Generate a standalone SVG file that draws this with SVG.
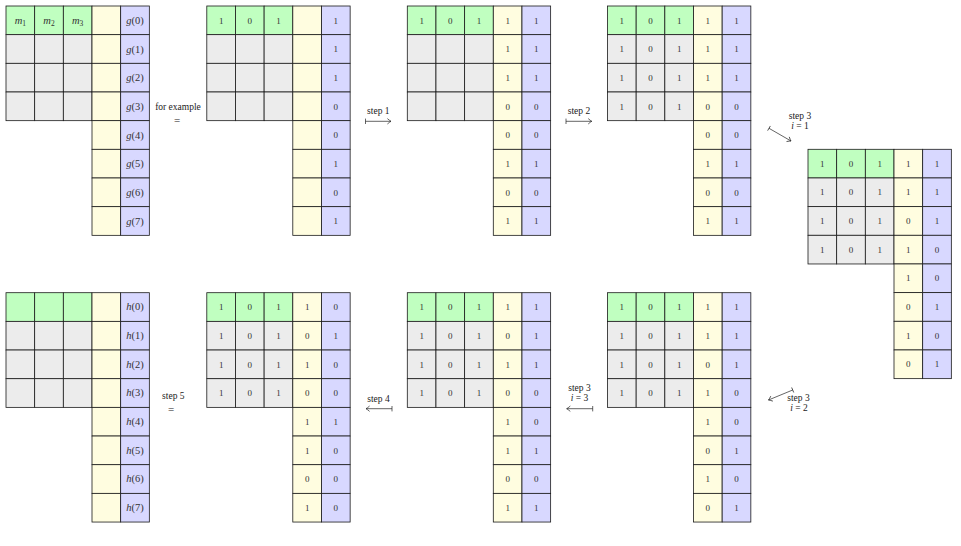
<svg xmlns="http://www.w3.org/2000/svg" xmlns:xlink="http://www.w3.org/1999/xlink" width="961" height="546" viewBox="0 0 961 546" font-family="'Liberation Serif', 'Times New Roman', 'DejaVu Serif', serif">
<style>
.c{stroke:#1a1a1a;stroke-width:0.8}
.gn{fill:#c0ffc0}
.gy{fill:#ececec}
.yl{fill:#fffde0}
.bl{fill:#d8d8ff}
text{font-family:'Liberation Serif','Times New Roman','DejaVu Serif',serif;fill:#333}
.d{font-size:9px;text-anchor:middle}
.v{font-size:10.5px;text-anchor:middle}
.it{font-style:italic}
.lb{font-size:9.5px;text-anchor:middle;fill:#222}
.eq{font-size:11px;text-anchor:middle;fill:#222}
.ar{fill:none;stroke:#222;stroke-width:0.7;marker-start:url(#bar);marker-end:url(#head)}
.mk{fill:none;stroke:#222;stroke-width:0.7}
</style>
<defs>
<marker id="head" markerUnits="userSpaceOnUse" viewBox="-5 -4 6 8" refX="0" refY="0" markerWidth="6" markerHeight="8" orient="auto" style="overflow:visible"><path class="mk" d="M-3.6,-2.7 Q-1.2,-0.6 0,0 Q-1.2,0.6 -3.6,2.7"/></marker>
<marker id="bar" markerUnits="userSpaceOnUse" viewBox="-2 -4 4 8" refX="0" refY="0" markerWidth="4" markerHeight="8" orient="auto" style="overflow:visible"><path class="mk" d="M0,-2.7 L0,2.7"/></marker>
<g id="tpl">
<rect class="c gn" x="0" y="0" width="28.67" height="28.67"/>
<rect class="c gn" x="28.67" y="0" width="28.67" height="28.67"/>
<rect class="c gn" x="57.33" y="0" width="28.67" height="28.67"/>
<rect class="c gy" x="0" y="28.67" width="28.67" height="28.67"/>
<rect class="c gy" x="28.67" y="28.67" width="28.67" height="28.67"/>
<rect class="c gy" x="57.33" y="28.67" width="28.67" height="28.67"/>
<rect class="c gy" x="0" y="57.33" width="28.67" height="28.67"/>
<rect class="c gy" x="28.67" y="57.33" width="28.67" height="28.67"/>
<rect class="c gy" x="57.33" y="57.33" width="28.67" height="28.67"/>
<rect class="c gy" x="0" y="86" width="28.67" height="28.67"/>
<rect class="c gy" x="28.67" y="86" width="28.67" height="28.67"/>
<rect class="c gy" x="57.33" y="86" width="28.67" height="28.67"/>
<rect class="c yl" x="86" y="0" width="28.67" height="28.67"/>
<rect class="c yl" x="86" y="28.67" width="28.67" height="28.67"/>
<rect class="c yl" x="86" y="57.33" width="28.67" height="28.67"/>
<rect class="c yl" x="86" y="86" width="28.67" height="28.67"/>
<rect class="c yl" x="86" y="114.67" width="28.67" height="28.67"/>
<rect class="c yl" x="86" y="143.33" width="28.67" height="28.67"/>
<rect class="c yl" x="86" y="172" width="28.67" height="28.67"/>
<rect class="c yl" x="86" y="200.67" width="28.67" height="28.67"/>
<rect class="c bl" x="114.67" y="0" width="28.67" height="28.67"/>
<rect class="c bl" x="114.67" y="28.67" width="28.67" height="28.67"/>
<rect class="c bl" x="114.67" y="57.33" width="28.67" height="28.67"/>
<rect class="c bl" x="114.67" y="86" width="28.67" height="28.67"/>
<rect class="c bl" x="114.67" y="114.67" width="28.67" height="28.67"/>
<rect class="c bl" x="114.67" y="143.33" width="28.67" height="28.67"/>
<rect class="c bl" x="114.67" y="172" width="28.67" height="28.67"/>
<rect class="c bl" x="114.67" y="200.67" width="28.67" height="28.67"/>
</g>
<g id="r101"><text class="d" x="14.33" y="17.5">1</text><text class="d" x="43" y="17.5">0</text><text class="d" x="71.67" y="17.5">1</text></g>
</defs>

<g id="grid-g" transform="translate(6,6)">
<use xlink:href="#tpl"/>
<text class="v" x="14.33" y="17.8"><tspan class="it">m</tspan><tspan font-size="7.5px" dy="2">1</tspan></text>
<text class="v" x="43" y="17.8"><tspan class="it">m</tspan><tspan font-size="7.5px" dy="2">2</tspan></text>
<text class="v" x="71.67" y="17.8"><tspan class="it">m</tspan><tspan font-size="7.5px" dy="2">3</tspan></text>
<text class="v" x="129" y="17.8"><tspan class="it">g</tspan>(0)</text>
<text class="v" x="129" y="46.5"><tspan class="it">g</tspan>(1)</text>
<text class="v" x="129" y="75.2"><tspan class="it">g</tspan>(2)</text>
<text class="v" x="129" y="103.8"><tspan class="it">g</tspan>(3)</text>
<text class="v" x="129" y="132.5"><tspan class="it">g</tspan>(4)</text>
<text class="v" x="129" y="161.2"><tspan class="it">g</tspan>(5)</text>
<text class="v" x="129" y="189.8"><tspan class="it">g</tspan>(6)</text>
<text class="v" x="129" y="218.5"><tspan class="it">g</tspan>(7)</text>
</g>

<g id="grid-example" transform="translate(206.8,6)">
<use xlink:href="#tpl"/>
<use xlink:href="#r101"/>
<text class="d" x="129" y="17.5">1</text><text class="d" x="129" y="46.2">1</text><text class="d" x="129" y="74.9">1</text><text class="d" x="129" y="103.5">0</text><text class="d" x="129" y="132.2">0</text><text class="d" x="129" y="160.9">1</text><text class="d" x="129" y="189.5">0</text><text class="d" x="129" y="218.2">1</text>
</g>

<g id="grid-step1" transform="translate(407.3,6)">
<use xlink:href="#tpl"/>
<use xlink:href="#r101"/>
<text class="d" x="100.33" y="17.5">1</text><text class="d" x="100.33" y="46.2">1</text><text class="d" x="100.33" y="74.9">1</text><text class="d" x="100.33" y="103.5">0</text><text class="d" x="100.33" y="132.2">0</text><text class="d" x="100.33" y="160.9">1</text><text class="d" x="100.33" y="189.5">0</text><text class="d" x="100.33" y="218.2">1</text>
<text class="d" x="129" y="17.5">1</text><text class="d" x="129" y="46.2">1</text><text class="d" x="129" y="74.9">1</text><text class="d" x="129" y="103.5">0</text><text class="d" x="129" y="132.2">0</text><text class="d" x="129" y="160.9">1</text><text class="d" x="129" y="189.5">0</text><text class="d" x="129" y="218.2">1</text>
</g>

<g id="grid-step2" transform="translate(607.5,6)">
<use xlink:href="#tpl"/>
<use xlink:href="#r101"/><use xlink:href="#r101" y="28.67"/><use xlink:href="#r101" y="57.33"/><use xlink:href="#r101" y="86"/>
<text class="d" x="100.33" y="17.5">1</text><text class="d" x="100.33" y="46.2">1</text><text class="d" x="100.33" y="74.9">1</text><text class="d" x="100.33" y="103.5">0</text><text class="d" x="100.33" y="132.2">0</text><text class="d" x="100.33" y="160.9">1</text><text class="d" x="100.33" y="189.5">0</text><text class="d" x="100.33" y="218.2">1</text>
<text class="d" x="129" y="17.5">1</text><text class="d" x="129" y="46.2">1</text><text class="d" x="129" y="74.9">1</text><text class="d" x="129" y="103.5">0</text><text class="d" x="129" y="132.2">0</text><text class="d" x="129" y="160.9">1</text><text class="d" x="129" y="189.5">0</text><text class="d" x="129" y="218.2">1</text>
</g>

<g id="grid-step3-i1" transform="translate(808,149.3)">
<use xlink:href="#tpl"/>
<use xlink:href="#r101"/><use xlink:href="#r101" y="28.67"/><use xlink:href="#r101" y="57.33"/><use xlink:href="#r101" y="86"/>
<text class="d" x="100.33" y="17.5">1</text><text class="d" x="100.33" y="46.2">1</text><text class="d" x="100.33" y="74.9">0</text><text class="d" x="100.33" y="103.5">1</text><text class="d" x="100.33" y="132.2">1</text><text class="d" x="100.33" y="160.9">0</text><text class="d" x="100.33" y="189.5">1</text><text class="d" x="100.33" y="218.2">0</text>
<text class="d" x="129" y="17.5">1</text><text class="d" x="129" y="46.2">1</text><text class="d" x="129" y="74.9">1</text><text class="d" x="129" y="103.5">0</text><text class="d" x="129" y="132.2">0</text><text class="d" x="129" y="160.9">1</text><text class="d" x="129" y="189.5">0</text><text class="d" x="129" y="218.2">1</text>
</g>

<g id="grid-step3-i2" transform="translate(607.5,292.7)">
<use xlink:href="#tpl"/>
<use xlink:href="#r101"/><use xlink:href="#r101" y="28.67"/><use xlink:href="#r101" y="57.33"/><use xlink:href="#r101" y="86"/>
<text class="d" x="100.33" y="17.5">1</text><text class="d" x="100.33" y="46.2">1</text><text class="d" x="100.33" y="74.9">0</text><text class="d" x="100.33" y="103.5">1</text><text class="d" x="100.33" y="132.2">1</text><text class="d" x="100.33" y="160.9">0</text><text class="d" x="100.33" y="189.5">1</text><text class="d" x="100.33" y="218.2">0</text>
<text class="d" x="129" y="17.5">1</text><text class="d" x="129" y="46.2">1</text><text class="d" x="129" y="74.9">1</text><text class="d" x="129" y="103.5">0</text><text class="d" x="129" y="132.2">0</text><text class="d" x="129" y="160.9">1</text><text class="d" x="129" y="189.5">0</text><text class="d" x="129" y="218.2">1</text>
</g>

<g id="grid-step3-i3" transform="translate(407.3,292.7)">
<use xlink:href="#tpl"/>
<use xlink:href="#r101"/><use xlink:href="#r101" y="28.67"/><use xlink:href="#r101" y="57.33"/><use xlink:href="#r101" y="86"/>
<text class="d" x="100.33" y="17.5">1</text><text class="d" x="100.33" y="46.2">0</text><text class="d" x="100.33" y="74.9">1</text><text class="d" x="100.33" y="103.5">0</text><text class="d" x="100.33" y="132.2">1</text><text class="d" x="100.33" y="160.9">1</text><text class="d" x="100.33" y="189.5">0</text><text class="d" x="100.33" y="218.2">1</text>
<text class="d" x="129" y="17.5">1</text><text class="d" x="129" y="46.2">1</text><text class="d" x="129" y="74.9">1</text><text class="d" x="129" y="103.5">0</text><text class="d" x="129" y="132.2">0</text><text class="d" x="129" y="160.9">1</text><text class="d" x="129" y="189.5">0</text><text class="d" x="129" y="218.2">1</text>
</g>

<g id="grid-step4" transform="translate(206.8,292.7)">
<use xlink:href="#tpl"/>
<use xlink:href="#r101"/><use xlink:href="#r101" y="28.67"/><use xlink:href="#r101" y="57.33"/><use xlink:href="#r101" y="86"/>
<text class="d" x="100.33" y="17.5">1</text><text class="d" x="100.33" y="46.2">0</text><text class="d" x="100.33" y="74.9">1</text><text class="d" x="100.33" y="103.5">0</text><text class="d" x="100.33" y="132.2">1</text><text class="d" x="100.33" y="160.9">1</text><text class="d" x="100.33" y="189.5">0</text><text class="d" x="100.33" y="218.2">1</text>
<text class="d" x="129" y="17.5">0</text><text class="d" x="129" y="46.2">1</text><text class="d" x="129" y="74.9">0</text><text class="d" x="129" y="103.5">0</text><text class="d" x="129" y="132.2">1</text><text class="d" x="129" y="160.9">0</text><text class="d" x="129" y="189.5">0</text><text class="d" x="129" y="218.2">0</text>
</g>

<g id="grid-h" transform="translate(6,292.7)">
<use xlink:href="#tpl"/>
<text class="v" x="129" y="17.8"><tspan class="it">h</tspan>(0)</text>
<text class="v" x="129" y="46.5"><tspan class="it">h</tspan>(1)</text>
<text class="v" x="129" y="75.2"><tspan class="it">h</tspan>(2)</text>
<text class="v" x="129" y="103.8"><tspan class="it">h</tspan>(3)</text>
<text class="v" x="129" y="132.5"><tspan class="it">h</tspan>(4)</text>
<text class="v" x="129" y="161.2"><tspan class="it">h</tspan>(5)</text>
<text class="v" x="129" y="189.8"><tspan class="it">h</tspan>(6)</text>
<text class="v" x="129" y="218.5"><tspan class="it">h</tspan>(7)</text>
</g>

<g id="connectors">
<line class="ar" x1="365.5" y1="121.3" x2="391" y2="121.3"/>
<line class="ar" x1="566" y1="121.3" x2="591.8" y2="121.3"/>
<line class="ar" x1="769" y1="128.3" x2="791" y2="141"/>
<line class="ar" x1="792.7" y1="390" x2="768.5" y2="400"/>
<line class="ar" x1="592.7" y1="408.7" x2="566.7" y2="408.7"/>
<line class="ar" x1="392" y1="408.7" x2="366" y2="408.7"/>
<text class="lb" x="178" y="110">for example</text>
<text class="eq" x="177" y="123.5">=</text>
<text class="lb" x="378.3" y="113.5">step 1</text>
<text class="lb" x="579" y="113.5">step 2</text>
<text class="lb" x="800" y="119">step 3</text>
<text class="lb" x="800" y="128.5"><tspan class="it">i</tspan> = 1</text>
<text class="lb" x="798.5" y="401">step 3</text>
<text class="lb" x="799" y="410.5"><tspan class="it">i</tspan> = 2</text>
<text class="lb" x="579.5" y="390.5">step 3</text>
<text class="lb" x="579.5" y="400.5"><tspan class="it">i</tspan> = 3</text>
<text class="lb" x="378.5" y="401.5">step 4</text>
<text class="lb" x="173.3" y="399">step 5</text>
<text class="eq" x="171" y="412.5">=</text>
</g>
</svg>
